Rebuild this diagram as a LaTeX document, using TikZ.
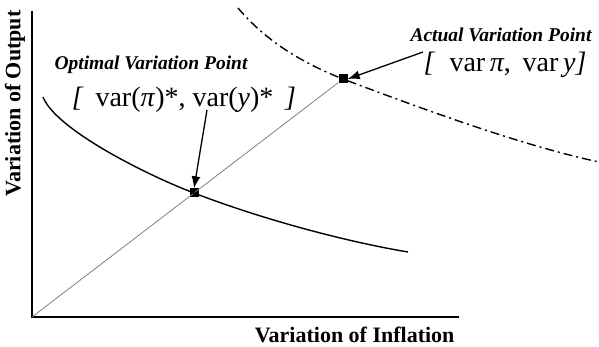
\documentclass[tikz,border=0pt]{standalone}
\usepackage{fontspec}
\setmainfont{Liberation Serif}
\usetikzlibrary{arrows.meta}
\begin{document}
\begin{tikzpicture}[x=1pt,y=-1pt,
  axis/.style={line width=2.6pt},
  curve/.style={line width=1.4pt},
  pt/.style={fill=black,minimum size=9pt,inner sep=0pt},
  ptr/.style={line width=1.3pt,-{Latex[length=12pt,width=9pt]}},
  lbl/.style={font=\fontsize{19.5}{19.5}\selectfont\bfseries\itshape},
  axlbl/.style={font=\fontsize{22}{22}\selectfont\bfseries},
  mth/.style={font=\fontsize{28}{28}\selectfont}]
\useasboundingbox (0,0) rectangle (599,347);
\coordinate (O) at (32,317);
\coordinate (Ytop) at (32,11);
\coordinate (Xend) at (459,317);
\draw[axis] (Ytop) -- (O) -- (Xend);
\node[axlbl,anchor=east] (xl) at (458,335) {Variation of Inflation};
\node[axlbl,rotate=90,anchor=east] (yl) at (15,7) {Variation of Output};
\node[pt] (opt) at (194,193) {};
\node[pt] (act) at (343,79) {};
\draw[gray,line width=0.8pt] (O) -- (act);
\draw[curve] (43,97) .. controls (56,130) and (149,176) .. (opt.center)
  .. controls (264,220) and (348,242) .. (408,252);
\draw[curve,dash pattern=on 9pt off 4pt on 2pt off 4pt] (238,8) .. controls (265,40) and (300,62) .. (act.center)
  .. controls (420,108) and (520,145) .. (599,162);
\node[lbl] (ol) at (151,65) {Optimal Variation Point};
\node[mth] (om) at (184,100) {\textit{[}\, var(\textit{π})*, var(\textit{y})*\, \textit{]}};
\node[mth] (am) at (505,65) {\textit{[}\ \ var\,\textit{π}, \,var\,\textit{y}\textit{]}};
\node[lbl] (al) at (501,35) {Actual Variation Point};
\coordinate (s1) at (207,110);
\coordinate (s2) at (423,52);
\draw[ptr] (s1) -- (opt.north);
\draw[ptr] (s2) -- (act.east);
\end{tikzpicture}
\end{document}
